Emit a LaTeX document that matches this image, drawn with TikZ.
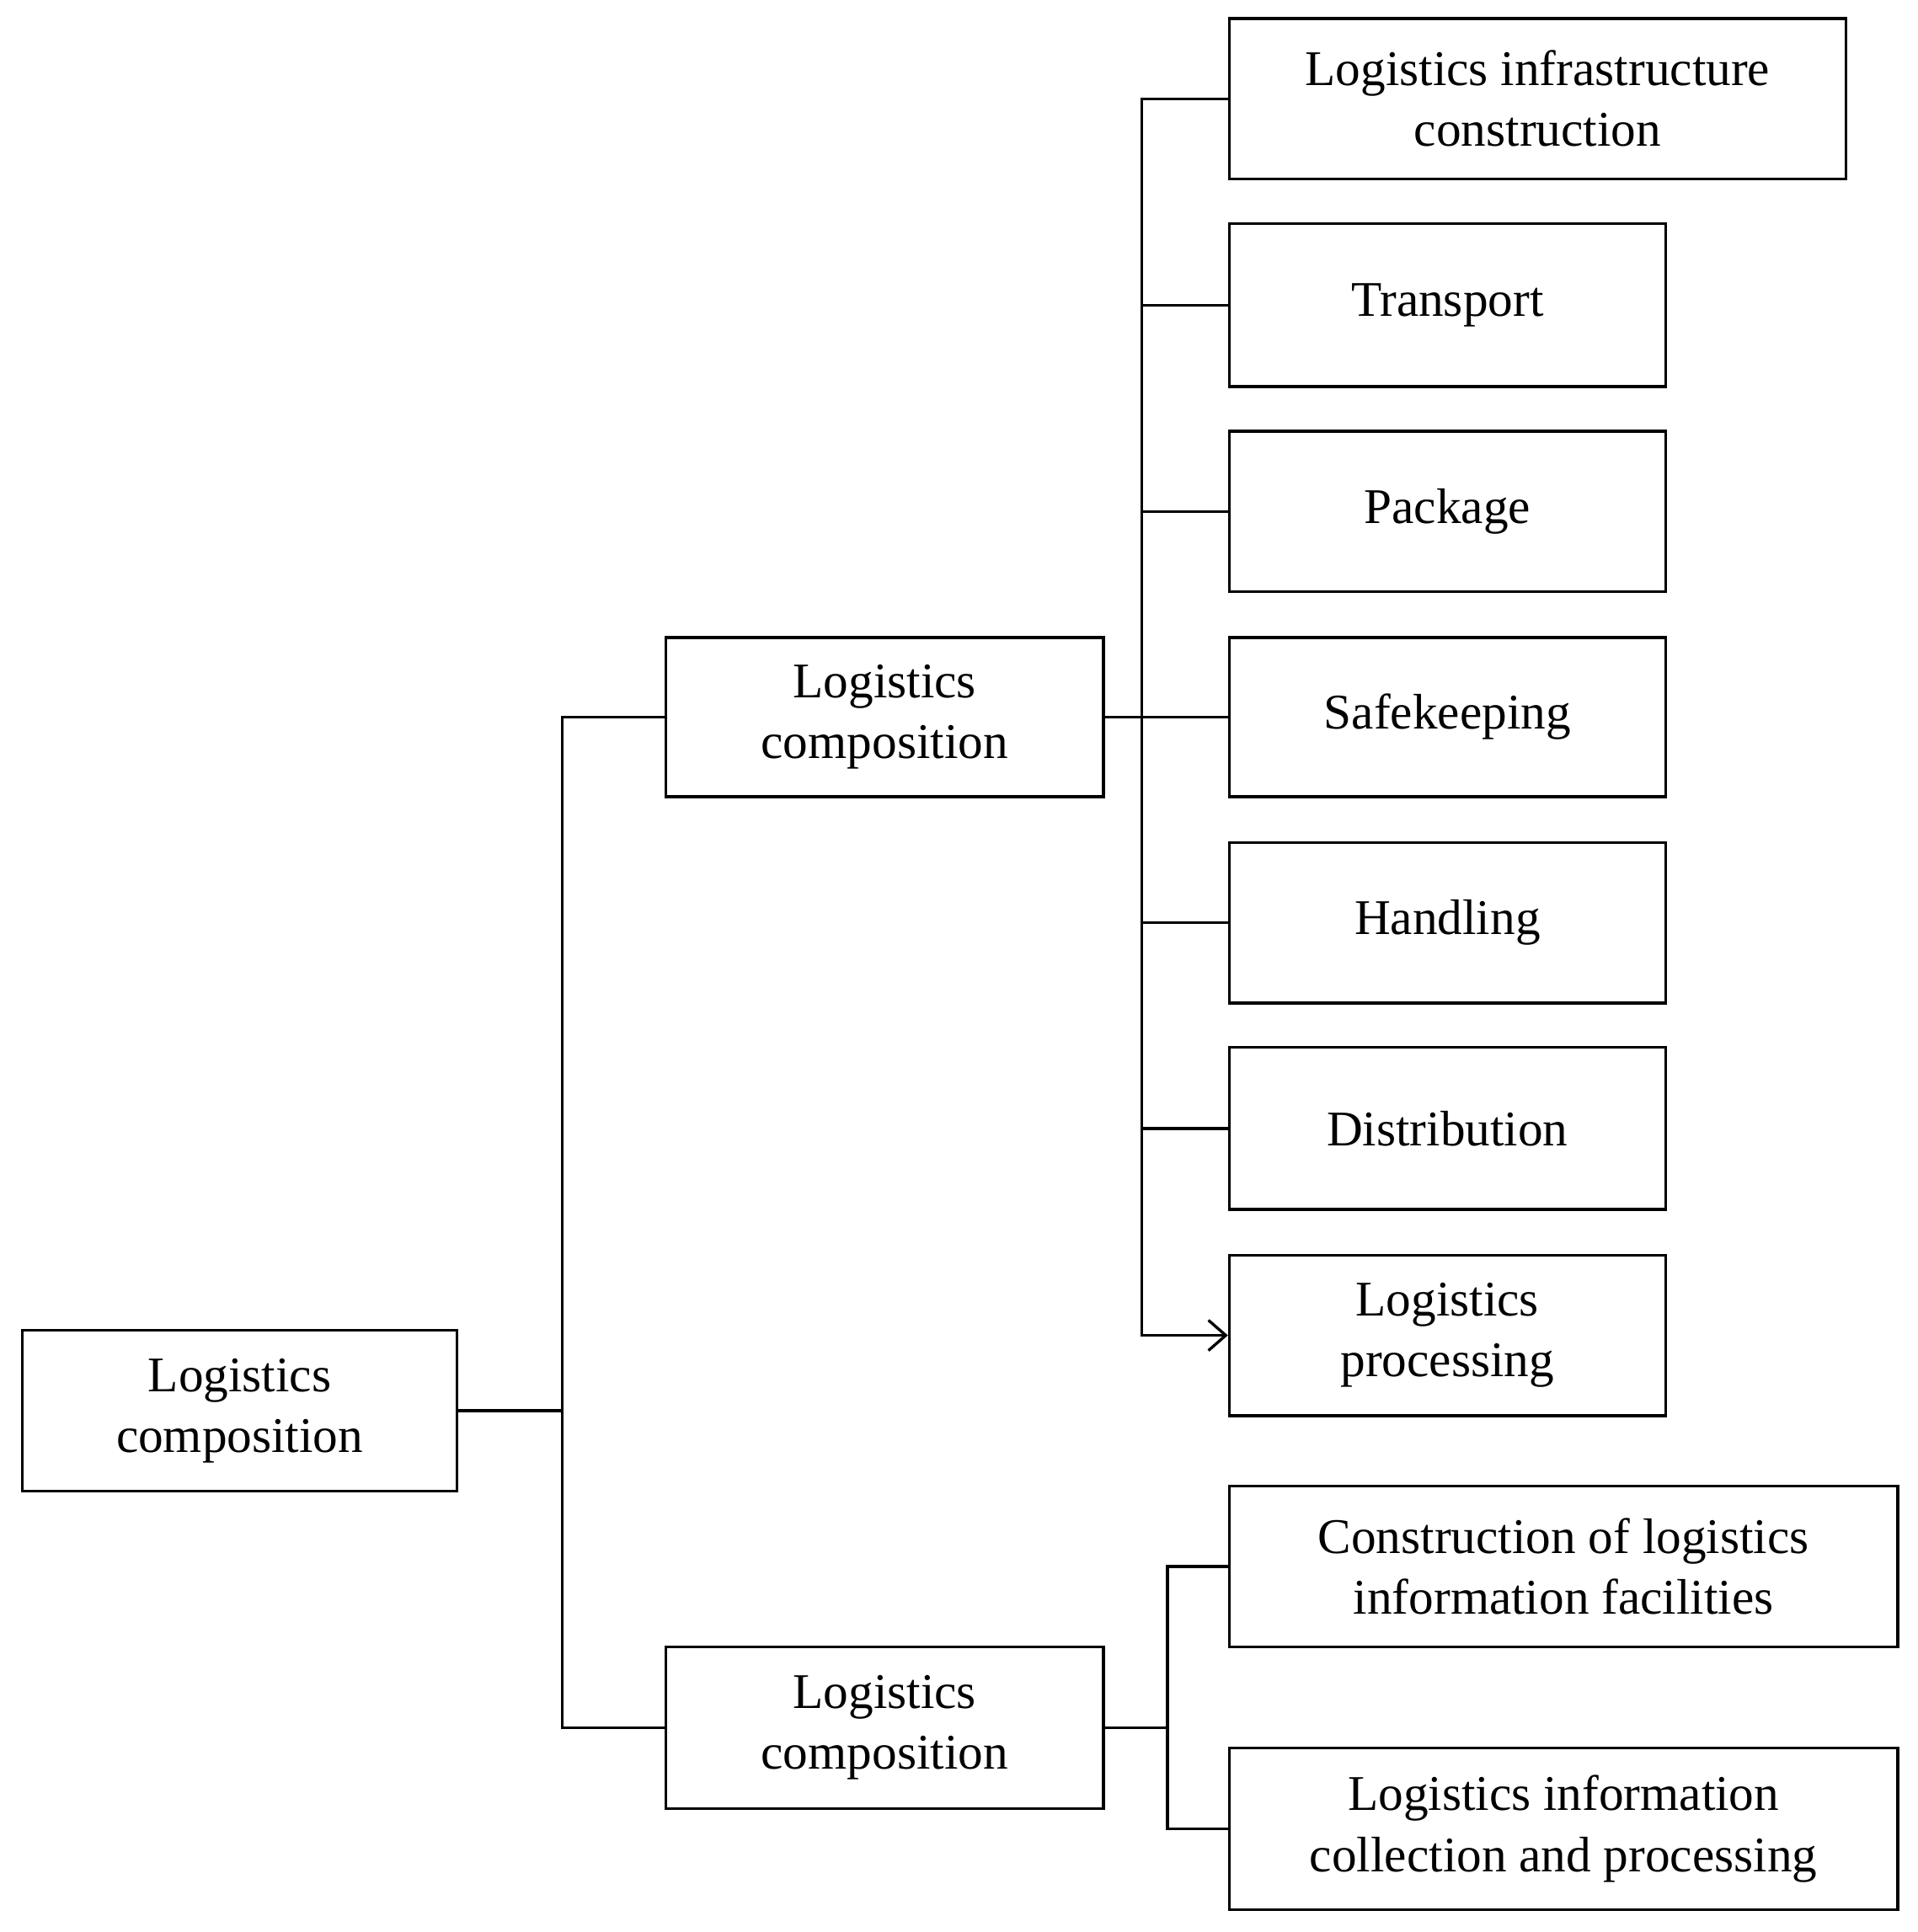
\documentclass[tikz,border=0pt]{standalone}
\usetikzlibrary{arrows.meta}
\usepackage{fontspec}
\setmainfont{Liberation Serif}
\begin{document}
\begin{tikzpicture}[x=0.02cm,y=-0.02cm,
  box/.style={draw,line width=1.3pt,align=center,inner sep=0pt,font=\fontsize{23}{28}\selectfont},
  ln/.style={line width=1.3pt}]
\useasboundingbox (0,0) rectangle (1552,1564);
\newcommand{\bx}[6]{\node[box,minimum width=(#4-#2)*0.02cm,minimum height=(#5-#3)*0.02cm] (#1) at ({(#2+#4)/2},{(#3+#5)/2}) {#6};}
\bx{root}{18}{1077}{370}{1207}{Logistics\\composition}
\bx{m1}{539}{516}{893}{645}{Logistics\\composition}
\bx{m2}{539}{1333}{893}{1464}{Logistics\\composition}
\bx{a}{995}{15}{1494}{145}{Logistics infrastructure\\construction}
\bx{b}{995}{181}{1348}{313}{Transport}
\bx{c}{995}{349}{1348}{479}{Package}
\bx{d}{995}{516}{1348}{645}{Safekeeping}
\bx{e}{995}{682}{1348}{812}{Handling}
\bx{f}{995}{848}{1348}{979}{Distribution}
\bx{g}{995}{1016}{1348}{1146}{Logistics\\processing}
\bx{h}{995}{1203}{1536}{1333}{Construction of logistics\\information facilities}
\bx{i}{995}{1415}{1536}{1546}{Logistics information\\collection and processing}
\coordinate (s1) at (924,0);
\coordinate (s2) at (945,0);
\coordinate (s0) at (455,0);
\draw[ln] (root.east) -- (s0 |- root.east);
\draw[ln] (m1.west) -| (s0 |- root.east) |- (m2.west);
\draw[ln] (m1.east) -- (d.west);
\draw[ln] (a.west) -| (s1 |- m1.east);
\foreach \n in {b,c,e,f} \draw[ln] (\n.west) -- (s1 |- \n.west);
\draw[ln,-{Straight Barb[length=8pt,width=14pt]}] (s1 |- m1.east) |- (g.west);
\draw[ln] (m2.east) -- (s2 |- m2.east);
\draw[ln] (h.west) -| (s2 |- m2.east) |- (i.west);
\end{tikzpicture}
\end{document}
